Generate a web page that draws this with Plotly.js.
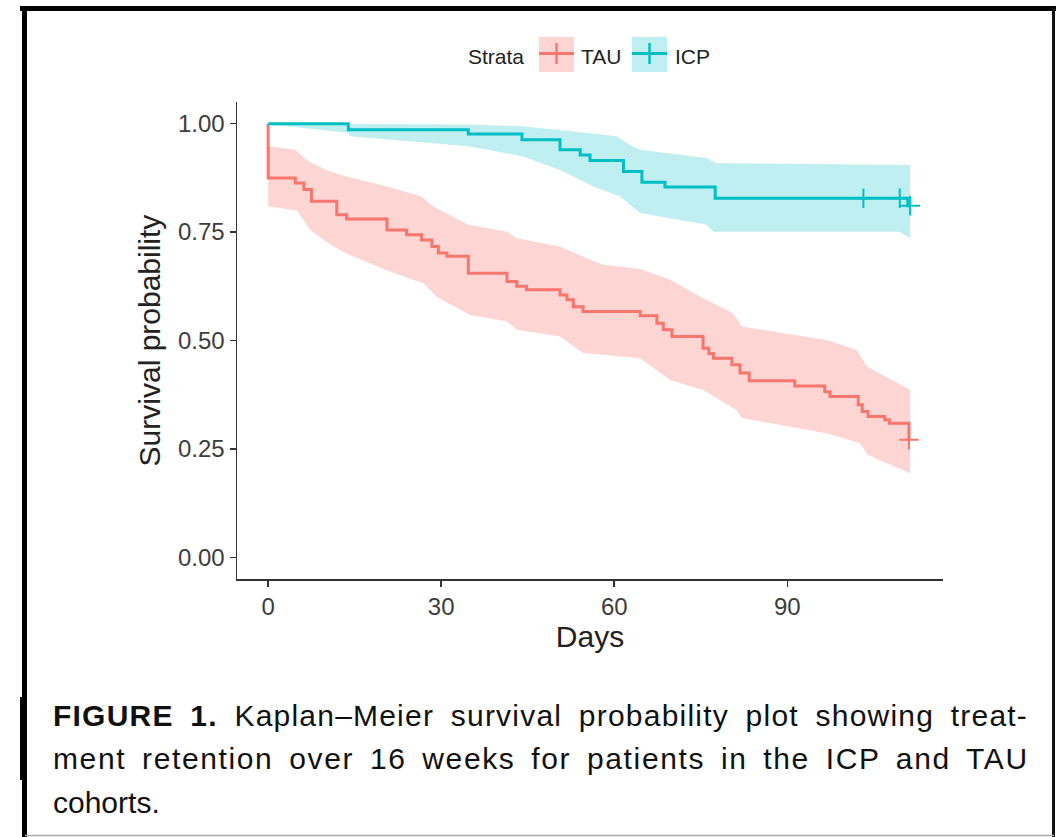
<!DOCTYPE html>
<html><head><meta charset="utf-8">
<script src="https://cdn.plot.ly/plotly-3.0.1.min.js"></script>
<style>html,body{margin:0;padding:0;background:#fff;overflow:hidden}#chart{width:1056px;height:837px}</style>
</head><body><div id="chart"></div>
<script>
// ---- Data (days, survival probability) ----
const TAU_TIME = [0, 0, 4.7, 6.2, 7.5, 11.9, 13.6, 20.6, 24.0, 26.6, 28.4, 29.5, 31.0, 34.7, 41.4, 43.1, 44.8, 50.6, 51.8, 52.9, 54.6, 64.5, 67.4, 68.5, 70.0, 75.4, 76.4, 77.2, 80.4, 81.8, 83.4, 91.3, 96.5, 97.4, 102.3, 103.0, 104.0, 106.9, 107.7, 111.1];
const TAU_SURV = [1.0, 0.875, 0.863, 0.848, 0.821, 0.790, 0.780, 0.755, 0.744, 0.732, 0.717, 0.702, 0.694, 0.655, 0.636, 0.625, 0.617, 0.605, 0.594, 0.578, 0.567, 0.557, 0.540, 0.525, 0.509, 0.482, 0.470, 0.459, 0.444, 0.425, 0.407, 0.395, 0.382, 0.371, 0.352, 0.336, 0.325, 0.317, 0.309, 0.271];
const TAU_CENS_TIME = [111.1];
const TAU_CENS_SURV = [0.271];
const TAU_UP_TIME = [0, 4.7, 7.0, 10.7, 13.6, 20.6, 26.6, 28.6, 34.7, 41.4, 43.1, 50.6, 55.8, 58.0, 64.5, 69.7, 74.9, 80.6, 82.1, 96.8, 102.0, 103.8, 111.3];
const TAU_UP = [0.948, 0.940, 0.913, 0.890, 0.878, 0.855, 0.832, 0.809, 0.767, 0.751, 0.736, 0.717, 0.686, 0.675, 0.665, 0.640, 0.601, 0.563, 0.532, 0.501, 0.478, 0.440, 0.386];
const TAU_LO_TIME = [0, 5.0, 7.3, 10.7, 13.6, 21.1, 26.9, 29.2, 35.0, 41.4, 43.1, 50.6, 54.6, 64.5, 69.7, 75.4, 81.2, 82.1, 96.8, 102.6, 104.0, 111.3];
const TAU_LO = [0.809, 0.800, 0.755, 0.722, 0.700, 0.659, 0.632, 0.601, 0.559, 0.544, 0.525, 0.509, 0.471, 0.459, 0.409, 0.386, 0.340, 0.321, 0.286, 0.263, 0.236, 0.194];

const ICP_TIME = [0, 13.9, 34.7, 44.0, 50.6, 54.1, 55.8, 61.6, 64.8, 68.8, 77.5, 110.9, 111.3];
const ICP_SURV = [1.0, 0.986, 0.976, 0.963, 0.940, 0.928, 0.915, 0.890, 0.865, 0.854, 0.828, 0.811, 0.811];
const ICP_CENS_TIME = [103.2, 109.5, 111.3];
const ICP_CENS_SURV = [0.828, 0.828, 0.811];
const ICP_UP_TIME = [0, 34.7, 44.0, 50.6, 55.8, 60.4, 62.2, 64.5, 76.0, 77.8, 111.3];
const ICP_UP = [1.0, 0.998, 0.994, 0.986, 0.978, 0.971, 0.955, 0.940, 0.921, 0.909, 0.905];
const ICP_LO_TIME = [0, 13.9, 14.2, 34.7, 44.0, 50.6, 56.4, 61.0, 64.5, 76.0, 77.2, 109.5, 111.3];
const ICP_LO = [0.998, 0.979, 0.971, 0.948, 0.925, 0.893, 0.855, 0.832, 0.794, 0.767, 0.751, 0.751, 0.736];

const STRATA = ['TAU', 'ICP'];
const X_TICKS = [0, 30, 60, 90];
const Y_TICKS = [0, 0.25, 0.5, 0.75, 1];
const Y_TICK_TEXT = ['0.00', '0.25', '0.50', '0.75', '1.00'];
const X_TITLE = 'Days';
const Y_TITLE = 'Survival probability';
const LEGEND_TITLE = 'Strata';
const CAPTION_BOLD = 'FIGURE 1.';
const CAPTION_LINES = [
  ' Kaplan\u2013Meier survival probability plot showing treat-',
  'ment retention over 16 weeks for patients in the ICP and TAU',
  'cohorts.'
];

// ---- Styling ----
const COLORS = {TAU: '#F8766D', ICP: '#00BFC4'};
const FILLS = {TAU: 'rgba(248,118,109,0.3)', ICP: 'rgba(0,191,196,0.25)'};
const FONT = '"Liberation Sans", Arial, Helvetica, sans-serif';
const WIDTH = 1056, HEIGHT = 837;
const L = 237, R = 943, T = 102, B = 579;
const px = x => (x - L) / (R - L);
const py = y => (B - y) / (B - T);

function band(upT, up, loT, lo) {
  return {x: upT.concat(loT.slice().reverse()), y: up.concat(lo.slice().reverse())};
}
const tauBand = band(TAU_UP_TIME, TAU_UP, TAU_LO_TIME, TAU_LO);
const icpBand = band(ICP_UP_TIME, ICP_UP, ICP_LO_TIME, ICP_LO);

const traces = [
  {x: tauBand.x, y: tauBand.y, type: 'scatter', mode: 'lines', fill: 'toself', fillcolor: FILLS.TAU, line: {width: 0}, hoverinfo: 'skip'},
  {x: icpBand.x, y: icpBand.y, type: 'scatter', mode: 'lines', fill: 'toself', fillcolor: FILLS.ICP, line: {width: 0}, hoverinfo: 'skip'},
  {x: TAU_TIME, y: TAU_SURV, type: 'scatter', mode: 'lines', line: {shape: 'hv', color: COLORS.TAU, width: 3}, name: 'TAU'},
  {x: ICP_TIME, y: ICP_SURV, type: 'scatter', mode: 'lines', line: {shape: 'hv', color: COLORS.ICP, width: 3}, name: 'ICP'},
  {x: TAU_CENS_TIME, y: TAU_CENS_SURV, type: 'scatter', mode: 'markers', marker: {symbol: 'cross-thin', size: 14, line: {color: COLORS.TAU, width: 2}}},
  {x: ICP_CENS_TIME, y: ICP_CENS_SURV, type: 'scatter', mode: 'markers', marker: {symbol: 'cross-thin', size: 14, line: {color: COLORS.ICP, width: 2}}}
];

const shapes = [];
const annotations = [];

function pline(x0, y0, x1, y1, color, w) {
  shapes.push({type: 'line', xref: 'paper', yref: 'paper', x0: px(x0), y0: py(y0), x1: px(x1), y1: py(y1), line: {color: color, width: w}});
}
// Frame around the figure
pline(20, 8.5, 1056, 8.5, '#000', 5);
pline(24.5, 6, 24.5, 837, '#000', 5);
pline(23.5, 697, 23.5, 780, '#000', 7);
pline(1053.5, 7, 1053.5, 837, '#111', 3);
pline(25, 835.5, 1054, 835.5, '#aaa', 1.5);

// Manual legend (ggplot style keys)
annotations.push({xref: 'paper', yref: 'paper', x: px(467), y: py(56.5), xanchor: 'left', yanchor: 'middle', text: LEGEND_TITLE, showarrow: false, borderpad: 0, font: {family: FONT, size: 21, color: '#222'}});
const keyX = {TAU: 539, ICP: 632};
const labelX = {TAU: 580, ICP: 674};
STRATA.forEach(s => {
  const x0 = keyX[s], x1 = x0 + 35;
  shapes.push({type: 'rect', xref: 'paper', yref: 'paper', x0: px(x0), x1: px(x1), y0: py(72), y1: py(37), fillcolor: FILLS[s], line: {width: 0}});
  pline(x0, 53.5, x1, 53.5, COLORS[s], 3);
  pline((x0 + x1) / 2, 43, (x0 + x1) / 2, 64, COLORS[s], 2.5);
  annotations.push({xref: 'paper', yref: 'paper', x: px(labelX[s]), y: py(56.5), xanchor: 'left', yanchor: 'middle', text: s, showarrow: false, borderpad: 0, font: {family: FONT, size: 21, color: '#222'}});
});

// Caption (one annotation per line, justified afterwards with letter/word spacing)
const CAP_SIZE = 30, CAP_X0 = 53, CAP_X1 = 1027, CAP_Y = [715, 758, 802], CAP_JUSTIFY = [true, true, false];
const capStart = annotations.length;
CAPTION_LINES.forEach((line, i) => {
  annotations.push({xref: 'paper', yref: 'paper', x: px(CAP_X0), y: py(CAP_Y[i]), xanchor: 'left', yanchor: 'middle', align: 'left',
    showarrow: false, borderpad: 0, borderwidth: 0,
    text: (i === 0 ? '<b>' + CAPTION_BOLD + '</b>' : '') + line, font: {family: FONT, size: CAP_SIZE, color: '#111'}});
});

const axisCommon = {showline: true, linecolor: '#333', linewidth: 1.5, ticks: 'outside', ticklen: 6, tickwidth: 1.5, tickcolor: '#333',
  showgrid: false, zeroline: false, tickfont: {family: FONT, size: 24, color: '#3d3d3d'}};

const layout = {
  width: WIDTH, height: HEIGHT,
  margin: {l: L, r: WIDTH - R, t: T, b: HEIGHT - B, pad: 0},
  paper_bgcolor: '#fff', plot_bgcolor: '#fff',
  showlegend: false,
  xaxis: Object.assign({}, axisCommon, {range: [-5.4, 117.0], tickvals: X_TICKS, ticktext: X_TICKS.map(String),
    title: {text: X_TITLE, font: {family: FONT, size: 30, color: '#222'}, standoff: 3}}),
  yaxis: Object.assign({}, axisCommon, {range: [-0.05, 1.05], tickvals: Y_TICKS, ticktext: Y_TICK_TEXT,
    title: {text: Y_TITLE, font: {family: FONT, size: 30, color: '#222'}, standoff: 8}}),
  shapes: shapes,
  annotations: annotations
};

Plotly.newPlot('chart', traces, layout, {staticPlot: true, displayModeBar: false}).then(gd => {
  // Journal-style justification: spread the extra room over letters and word gaps
  CAPTION_LINES.forEach((line, i) => {
    if (!CAP_JUSTIFY[i]) return;
    const g = gd.querySelector('.annotation[data-index="' + (capStart + i) + '"] text.annotation-text');
    if (!g) return;
    const bb = g.getBBox();
    const full = g.textContent;
    const nChars = full.length - 1;
    const nGaps = (full.trim().match(/ +/g) || []).length;
    const extra = (CAP_X1 - CAP_X0) - bb.width;
    if (extra <= 0) return;
    const ls = extra * 0.6 / nChars;
    const ws = extra * 0.4 / Math.max(nGaps, 1);
    g.style.letterSpacing = ls.toFixed(2) + 'px';
    g.style.wordSpacing = ws.toFixed(2) + 'px';
  });
});
</script></body></html>
